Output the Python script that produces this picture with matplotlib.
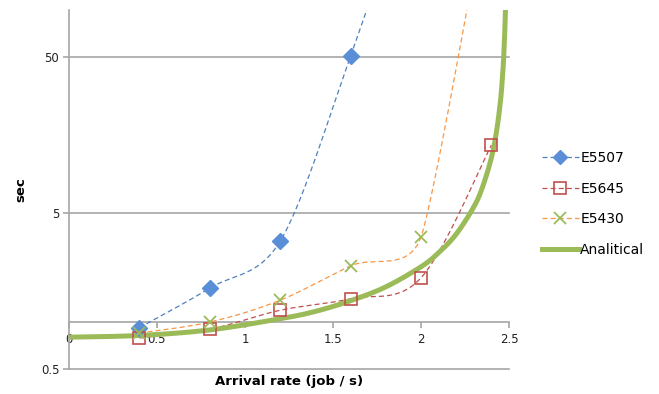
import numpy as np
import matplotlib
matplotlib.use("Agg")
import matplotlib.pyplot as plt
from matplotlib.ticker import FixedLocator, FixedFormatter, NullLocator
from matplotlib.lines import Line2D

# ---- data ----
arrival = [0.4, 0.8, 1.2, 1.6, 2.0, 2.4]
e5507 = [0.92, 1.65, 3.3, 50.5, 1100.0, None]
e5645 = [0.79, 0.90, 1.19, 1.41, 1.92, 13.6]
e5430 = [0.85, 1.0, 1.38, 2.29, 3.51, 720.0]

analytic_x = [0.0, 0.4, 0.8, 1.2, 1.4, 1.6, 1.8, 2.0, 2.1, 2.2, 2.3,
              2.35, 2.4, 2.43, 2.45, 2.46, 2.47, 2.48, 2.485]
analytic_y = [0.80, 0.82, 0.89, 1.05, 1.17, 1.37, 1.68, 2.26, 2.78, 3.66, 5.47,
              7.35, 11.3, 16.9, 25.2, 33.5, 50.2, 100.0, 200.0]

yticks = [0.5, 5, 50]
ytick_labels = ["0.5", "5", "50"]
xticks = [0, 0.5, 1, 1.5, 2, 2.5]
xtick_labels = ["0", "0.5", "1", "1.5", "2", "2.5"]

BLUE = "#4F81BD"
RED = "#C0504D"
GREEN = "#9BBB59"
ORANGE = "#F79646"
GRID = "#A6A6A6"

PX_X = 176.0   # pixels per x unit
PX_Y = 156.0   # pixels per decade


def smooth(xs, ys, n=60, cap=True):
    """Excel-like smoothed line: Bezier with 1/6 tangents (optionally capped at
    half the adjacent segment length), computed in screen-proportional space."""
    pts = [(x * PX_X, np.log10(y) * PX_Y) for x, y in zip(xs, ys) if y is not None]
    P = np.array(pts, dtype=float)
    m = len(P)
    out = [P[0]]
    for i in range(m - 1):
        p0 = P[i - 1] if i > 0 else P[i]
        p1 = P[i]
        p2 = P[i + 1]
        p3 = P[i + 2] if i + 2 < m else P[i + 1]
        t1 = (p2 - p0) / 6.0
        t2 = (p3 - p1) / 6.0
        if cap:
            L1 = np.hypot(*t1)
            cap1 = np.hypot(*(p2 - p1)) / 2.0
            if i > 0:
                cap1 = min(cap1, np.hypot(*(p1 - p0)) / 2.0)
            if L1 > cap1 and L1 > 0:
                t1 = t1 * cap1 / L1
            L2 = np.hypot(*t2)
            cap2 = np.hypot(*(p2 - p1)) / 2.0
            if i + 2 < m:
                cap2 = min(cap2, np.hypot(*(p3 - p2)) / 2.0)
            if L2 > cap2 and L2 > 0:
                t2 = t2 * cap2 / L2
        c1 = p1 + t1
        c2 = p2 - t2
        t = np.linspace(0, 1, n)[1:, None]
        seg = ((1 - t) ** 3) * p1 + 3 * ((1 - t) ** 2) * t * c1 \
            + 3 * (1 - t) * t ** 2 * c2 + t ** 3 * p2
        out.extend(seg)
    out = np.array(out)
    return out[:, 0] / PX_X, 10 ** (out[:, 1] / PX_Y)


plt.rcParams['font.family'] = ['DejaVu Sans']
fig = plt.figure(figsize=(6.59, 3.94), dpi=100)
ax = fig.add_axes([69 / 659, 1 - 369 / 394, 440 / 659, 359 / 394])
ax.set_yscale('log')
ax.set_xlim(0, 2.5)
ax.set_ylim(0.5, 100)

for g in yticks:
    ax.axhline(g, color=GRID, lw=1.2, zorder=1, clip_on=False)

dash = (0, (4, 2.5))
DIAM = "#5A8ED6"

sx, sy = smooth(arrival, e5507)
ax.plot(sx, sy, color=BLUE, lw=0.9, linestyle=dash, zorder=3)
ax.plot([a for a, v in zip(arrival, e5507) if v is not None],
        [v for v in e5507 if v is not None], linestyle='none', marker='D',
        ms=8.5, mfc=DIAM, mec=DIAM, zorder=5)

sx, sy = smooth(arrival, e5645)
ax.plot(sx, sy, color=RED, lw=0.9, linestyle=dash, zorder=3)
ax.plot(arrival, e5645, linestyle='none', marker='s', ms=9, mfc='none',
        mec=RED, mew=1.2, zorder=5)

sx, sy = smooth(arrival, e5430)
ax.plot(sx, sy, color=ORANGE, lw=0.9, linestyle=dash, zorder=3)
ax.plot(arrival, e5430, linestyle='none', marker='x', ms=9, mec=GREEN,
        mew=1.3, zorder=5)

sx, sy = smooth(analytic_x, analytic_y, n=40, cap=False)
ax.plot(sx, sy, color=GREEN, lw=3.6, zorder=4, solid_capstyle='butt')

for s in ['top', 'right']:
    ax.spines[s].set_visible(False)
ax.spines['left'].set_color(GRID)
ax.spines['left'].set_linewidth(1.2)
ax.spines['bottom'].set_position(('data', 1))
ax.spines['bottom'].set_color(GRID)
ax.spines['bottom'].set_linewidth(1.2)

ax.yaxis.set_major_locator(FixedLocator(yticks))
ax.yaxis.set_major_formatter(FixedFormatter(ytick_labels))
ax.yaxis.set_minor_locator(NullLocator())
ax.xaxis.set_major_locator(FixedLocator(xticks))
ax.xaxis.set_major_formatter(FixedFormatter(xtick_labels))
ax.tick_params(axis='y', direction='out', length=4, width=1.2, color=GRID,
               labelsize=8.5, pad=3, labelcolor='#222222')
ax.tick_params(axis='x', direction='out', length=4, width=1.2, color=GRID,
               labelsize=8.5, pad=4, labelcolor='#222222')

fig.text(289 / 659, 1 - 381 / 394, "Arrival rate (job / s)", ha='center',
         va='center', fontsize=9.5, fontweight='bold')
fig.text(21 / 659, 1 - 190 / 394, "sec", ha='center', va='center',
         rotation=90, fontsize=9.5, fontweight='bold')

handles = [
    Line2D([], [], color=BLUE, lw=0.9, linestyle=dash, marker='D', ms=7,
           mfc=DIAM, mec=DIAM),
    Line2D([], [], color=RED, lw=0.9, linestyle=dash, marker='s', ms=8,
           mfc='none', mec=RED, mew=1.2),
    Line2D([], [], color=ORANGE, lw=0.9, linestyle=dash, marker='x', ms=8,
           mec=GREEN, mew=1.3),
    Line2D([], [], color=GREEN, lw=3.6),
]
fig.legend(handles, ["E5507", "E5645", "E5430", "Analitical"],
           loc='center left', bbox_to_anchor=(529 / 659, 1 - 204 / 394),
           frameon=False, fontsize=10, handlelength=2.7, handletextpad=0.1,
           labelspacing=1.2)

fig.savefig("out.png", dpi=100)
